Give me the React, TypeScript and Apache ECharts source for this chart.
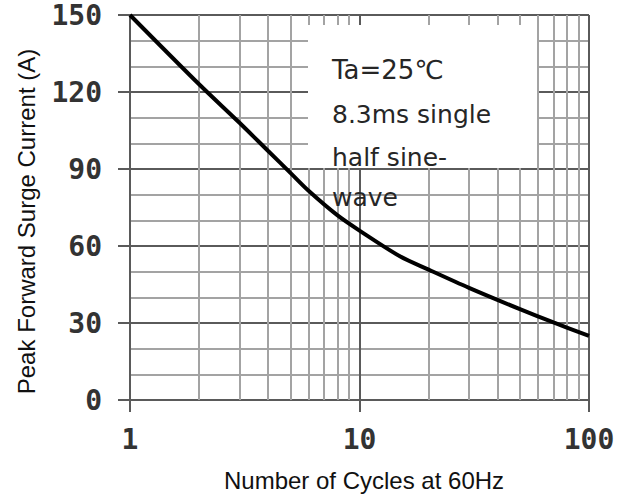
import React, { useEffect, useRef } from "react";
import * as echarts from "echarts";

const cycles = [1, 2, 3, 4, 5, 6, 8, 10, 15, 20, 30, 50, 70, 100];
const surge = [150, 123, 108, 97, 88.5, 81.5, 72, 66, 56, 50.8, 43.7, 35.4, 30.2, 25];
const xMinorLines = [2, 3, 4, 5, 6, 7, 8, 9, 20, 30, 40, 50, 60, 70, 80, 90];
const yMin = 0;
const yMax = 150;
const yStep = 30;
const noteLines = ["Ta=25\u2103", "8.3ms single", "half sine-", "wave"];
const xName = "Number of Cycles at 60Hz";
const yName = "Peak Forward Surge Current (A)";

const MAJOR = "#5a5a5a";
const MINOR = "#a3a3a3";

export default function App() {
  const ref = useRef<HTMLDivElement>(null);
  useEffect(() => {
    if (!ref.current) return;
    const chart = echarts.init(ref.current, undefined, { renderer: "svg" });
    const noteY = [70, 114, 157, 197];
    const tickFont = {
      fontFamily: "DejaVu Sans Mono",
      fontSize: 28,
      fontWeight: "bold" as const,
      color: "#333333",
      lineHeight: 22,
    };
    chart.setOption({
      animation: false,
      backgroundColor: "#ffffff",
      grid: { left: 130, right: 44, top: 15, bottom: 94 },
      xAxis: {
        type: "log",
        logBase: 10,
        min: 1,
        max: 100,
        name: xName,
        nameLocation: "middle",
        nameGap: 68,
        nameTextStyle: {
          fontFamily: "Liberation Sans",
          fontSize: 24,
          color: "#111",
          padding: [0, 0, 0, 9],
        },
        axisLine: { show: true, lineStyle: { color: MAJOR, width: 2 } },
        axisTick: { show: true, length: 12, lineStyle: { color: MAJOR, width: 2 } },
        axisLabel: { ...tickFont, margin: 28 },
        splitLine: { show: true, lineStyle: { color: MAJOR, width: 2 } },
      },
      yAxis: {
        type: "value",
        min: yMin,
        max: yMax,
        interval: yStep,
        name: yName,
        nameLocation: "middle",
        nameGap: 92,
        nameTextStyle: {
          fontFamily: "Liberation Sans",
          fontSize: 24,
          color: "#111",
          padding: [0, 28, 0, 0],
        },
        axisLine: { show: true, lineStyle: { color: MAJOR, width: 2 } },
        axisTick: { show: true, length: 12, lineStyle: { color: MAJOR, width: 2 } },
        axisLabel: { ...tickFont, margin: 28, padding: [5, 0, 0, 0] },
        splitLine: { show: true, lineStyle: { color: MAJOR, width: 2 } },
        minorTick: { show: false, splitNumber: 3 },
        minorSplitLine: { show: true, lineStyle: { color: MINOR, width: 2 } },
      },
      series: [
        {
          type: "line",
          data: [],
          z: 1,
          silent: true,
          markLine: {
            silent: true,
            symbol: ["none", "none"],
            label: { show: false },
            lineStyle: { type: "solid", color: MINOR, width: 2 },
            emphasis: { disabled: true },
            data: xMinorLines.map((v) => ({ xAxis: v })),
          },
        },
        {
          type: "line",
          z: 5,
          data: cycles.map((c, i) => [c, surge[i]]),
          smooth: 0.3,
          showSymbol: false,
          symbol: "none",
          lineStyle: { color: "#000000", width: 4 },
        },
      ],
      graphic: [
        {
          type: "rect",
          z: 10,
          shape: { x: 308, y: 25, width: 229, height: 143 },
          style: { fill: "#ffffff" },
        },
        ...noteLines.map((t, i) => ({
          type: "text",
          z: 11,
          x: 332,
          y: noteY[i],
          style: {
            text: t,
            font: (i === 0 ? "26px" : "25px") + " 'DejaVu Sans'",
            fill: "#262626",
            verticalAlign: "middle",
            align: "left",
          },
        })),
      ],
    });
    return () => chart.dispose();
  }, []);
  return (
    <div
      ref={ref}
      style={{ position: "fixed", left: 0, top: 0, width: 633, height: 497 }}
    />
  );
}
